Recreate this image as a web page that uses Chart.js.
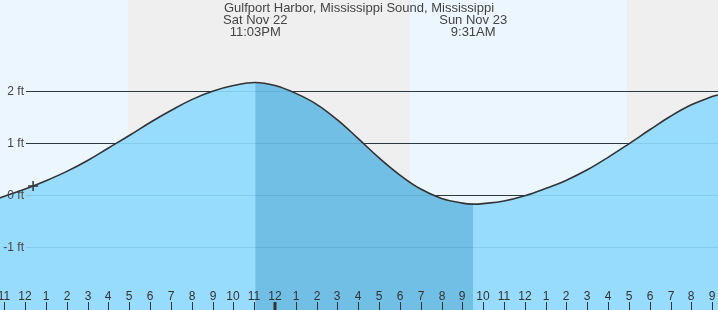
<!DOCTYPE html>
<html>
<head>
<meta charset="utf-8">
<script src="https://cdn.jsdelivr.net/npm/chart.js@4"></script>
<style>
  body { margin: 0; background: #ffffff; }
  #wrap { width: 718px; height: 310px; position: relative; }
</style>
</head>
<body>
<div id="wrap"><canvas id="tideChart"></canvas></div>
<script>
// hours counted from Sat Nov 22 00:00
const hours = [10.79, 11, 12, 13, 14, 15, 16, 17, 18, 19, 20, 21, 22, 23.05, 24, 25, 26, 27, 28, 29, 30, 31, 32, 33, 33.52, 34, 35, 36, 37, 38, 39, 40, 41, 42, 43, 44, 45, 45.28];
const heights = [-0.05, -0.02, 0.12, 0.28, 0.46, 0.67, 0.91, 1.15, 1.4, 1.63, 1.84, 2.0, 2.11, 2.17, 2.11, 1.96, 1.75, 1.45, 1.09, 0.72, 0.39, 0.12, -0.06, -0.15, -0.17, -0.16, -0.11, -0.01, 0.13, 0.29, 0.49, 0.73, 0.99, 1.26, 1.52, 1.74, 1.9, 1.93];
const highTime = 23.05;
const lowTime = 33.52;
const nowPoint = { x: 12.38, y: 0.18 };
const bands = [[10.79, 16.94, "#ecf6fe"], [16.94, 30.49, "#efefef"], [30.49, 40.91, "#ecf6fe"], [40.91, 45.28, "#efefef"]];
const feetTicks = [2, 1, 0, -1];
const hourTicks = [];
for (let h = 11; h <= 45; h++) hourTicks.push(h);
const titleText = "Gulfport Harbor, Mississippi Sound, Mississippi";
const extremes = [
  { x: highTime, day: "Sat Nov 22", time: "11:03PM" },
  { x: lowTime, day: "Sun Nov 23", time: "9:31AM" }
];

const tidePoints = hours.map((h, i) => ({ x: h, y: heights[i] }));
const ebbPoints = tidePoints.filter(p => p.x >= highTime && p.x <= lowTime);

const tidePlugin = {
  id: "tideDecor",
  beforeDatasetsDraw(chart) {
    const ctx = chart.ctx;
    const xs = chart.scales.x, ys = chart.scales.y;
    const area = chart.chartArea;
    ctx.save();
    bands.forEach(b => {
      const x1 = xs.getPixelForValue(b[0]);
      const x2 = xs.getPixelForValue(b[1]);
      ctx.fillStyle = b[2];
      ctx.fillRect(x1, area.top, x2 - x1, area.bottom - area.top);
    });
    ctx.strokeStyle = "#333333";
    ctx.lineWidth = 1;
    feetTicks.forEach(v => {
      const y = Math.round(ys.getPixelForValue(v)) + 0.5;
      ctx.beginPath();
      ctx.moveTo(26, y);
      ctx.lineTo(area.right, y);
      ctx.stroke();
    });
    ctx.restore();
  },
  afterDatasetsDraw(chart) {
    const ctx = chart.ctx;
    const ys = chart.scales.y;
    ctx.save();
    ctx.strokeStyle = "rgba(0, 90, 150, 0.12)";
    ctx.lineWidth = 1;
    feetTicks.forEach(v => {
      const y = Math.round(ys.getPixelForValue(v)) + 0.5;
      ctx.beginPath();
      ctx.moveTo(26, y);
      ctx.lineTo(chart.chartArea.right, y);
      ctx.stroke();
    });
    ctx.restore();
  },
  afterDraw(chart) {
    const ctx = chart.ctx;
    const xs = chart.scales.x, ys = chart.scales.y;
    const area = chart.chartArea;
    ctx.save();
    ctx.fillStyle = "#444444";
    ctx.font = "12px 'Liberation Sans', Arial, sans-serif";
    ctx.textAlign = "right";
    ctx.textBaseline = "middle";
    feetTicks.forEach(v => {
      ctx.fillText(v + " ft", 24, ys.getPixelForValue(v));
    });

    ctx.textAlign = "center";
    ctx.textBaseline = "alphabetic";
    ctx.fillStyle = "#333333";
    ctx.strokeStyle = "#333333";
    hourTicks.forEach(h => {
      const x = Math.round(xs.getPixelForValue(h));
      const label = ((h - 1) % 12) + 1;
      ctx.fillText(String(label), x, 300);
      ctx.lineWidth = h === 24 ? 3 : 1;
      ctx.beginPath();
      ctx.moveTo(x + (h === 24 ? 0 : 0.5), 302);
      ctx.lineTo(x + (h === 24 ? 0 : 0.5), area.bottom);
      ctx.stroke();
    });

    ctx.fillStyle = "#444444";
    ctx.font = "13px 'Liberation Sans', Arial, sans-serif";
    ctx.fillText(titleText, 359, 12);
    extremes.forEach(e => {
      const x = xs.getPixelForValue(e.x);
      ctx.fillText(e.day, x, 24);
      ctx.fillText(e.time, x, 36);
    });
    ctx.restore();
  }
};

const chart = new Chart(document.getElementById("tideChart"), {
  type: "line",
  data: {
    datasets: [
      {
        label: "now",
        type: "scatter",
        data: [nowPoint],
        pointStyle: "cross",
        pointRadius: 5,
        borderColor: "#333333",
        borderWidth: 1.5,
        order: 0
      },
      {
        label: "curve",
        data: tidePoints,
        borderColor: "#333333",
        borderWidth: 1.6,
        pointRadius: 0,
        fill: false,
        tension: 0.4,
        order: 1
      },
      {
        label: "ebb",
        data: ebbPoints,
        borderWidth: 0,
        borderColor: "rgba(0,0,0,0)",
        backgroundColor: "#71bfe4",
        pointRadius: 0,
        fill: "start",
        tension: 0.4,
        order: 2
      },
      {
        label: "tide",
        data: tidePoints,
        borderWidth: 0,
        borderColor: "rgba(0,0,0,0)",
        backgroundColor: "#97dcfc",
        pointRadius: 0,
        fill: "start",
        tension: 0.4,
        order: 3
      }
    ]
  },
  options: {
    responsive: true,
    maintainAspectRatio: false,
    animation: false,
    layout: { padding: 0, autoPadding: false },
    plugins: {
      legend: { display: false },
      tooltip: { enabled: false }
    },
    scales: {
      x: { type: "linear", min: 10.79, max: 45.28, display: false },
      y: { type: "linear", min: -2.206, max: 3.756, display: false }
    }
  },
  plugins: [tidePlugin]
});
</script>
</body>
</html>
